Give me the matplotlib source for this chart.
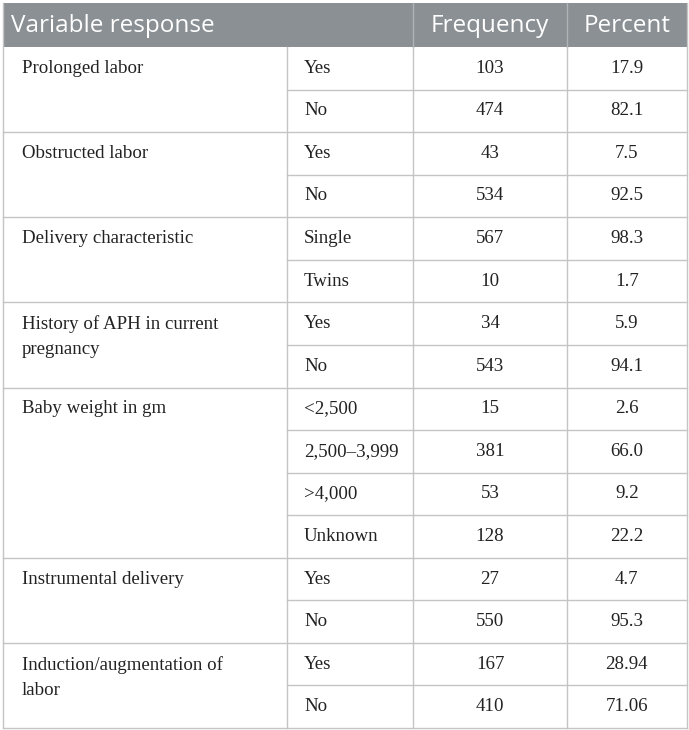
import matplotlib
matplotlib.use("Agg")
import matplotlib.pyplot as plt

# Dades de la taula
variables = [
    "Prolonged labor",
    "Obstructed labor",
    "Delivery characteristic",
    "History of APH in current\npregnancy",
    "Baby weight in gm",
    "Instrumental delivery",
    "Induction/augmentation of\nlabor",
]
responses = [
    ["Yes", "No"],
    ["Yes", "No"],
    ["Single", "Twins"],
    ["Yes", "No"],
    ["<2,500", "2,500\u20133,999", ">4,000", "Unknown"],
    ["Yes", "No"],
    ["Yes", "No"],
]
frequencies = [
    [103, 474],
    [43, 534],
    [567, 10],
    [34, 543],
    [15, 381, 53, 128],
    [27, 550],
    [167, 410],
]
percents = [
    ["17.9", "82.1"],
    ["7.5", "92.5"],
    ["98.3", "1.7"],
    ["5.9", "94.1"],
    ["2.6", "66.0", "9.2", "22.2"],
    ["4.7", "95.3"],
    ["28.94", "71.06"],
]
headers = ["Variable response", "Frequency", "Percent"]

# Geometria (en píxels)
W, H = 689, 730
left, right = 2.5, 686.5
top, head_bot, bottom = 3, 47, 728
col_x = [left, 287, 413, 567, right]
n_rows = sum(len(r) for r in responses)
row_h = (bottom - head_bot) / n_rows

line_c = "#c4c4c4"
head_c = "#8a9093"

fig = plt.figure(figsize=(W / 100, H / 100), dpi=100)
ax = fig.add_axes([0, 0, 1, 1])
ax.set_xlim(0, W)
ax.set_ylim(H, 0)
ax.axis("off")

# Capçalera
ax.add_patch(plt.Rectangle((left, top), right - left, head_bot - top,
                           facecolor=head_c, edgecolor="none"))
ax.plot([col_x[2], col_x[2]], [top, head_bot], color="#b0b4b6", lw=1)
ax.plot([col_x[3], col_x[3]], [top, head_bot], color="#b0b4b6", lw=1)
hfont = dict(family=["Open Sans", "DejaVu Sans"], fontsize=17.5, color="white", va="center")
hy = (top + head_bot) / 2 + 1
ax.text(11, hy, headers[0], ha="left", **hfont)
ax.text((col_x[2] + col_x[3]) / 2, hy, headers[1], ha="center", **hfont)
ax.text((col_x[3] + col_x[4]) / 2, hy, headers[2], ha="center", **hfont)

# Cos
bfont = dict(family=["Liberation Serif", "DejaVu Serif"], fontsize=13.6, color="#222222")
y = head_bot
for var, resp, freq, pct in zip(variables, responses, frequencies, percents):
    g_top = y
    ax.text(22, g_top + row_h / 2 - 8.3, var, ha="left", va="top",
            linespacing=1.6, **bfont)
    for i, (r, f, p) in enumerate(zip(resp, freq, pct)):
        cy = y + row_h / 2
        ax.text(304, cy, r, ha="left", va="center", **bfont)
        ax.text((col_x[2] + col_x[3]) / 2, cy, str(f), ha="center", va="center", **bfont)
        ax.text((col_x[3] + col_x[4]) / 2, cy, p, ha="center", va="center", **bfont)
        y += row_h
        if i < len(resp) - 1:
            ax.plot([col_x[1], right], [y, y], color=line_c, lw=1)
    ax.plot([left, right], [y, y], color=line_c, lw=1)

# Línies verticals i vora
for x in col_x:
    y0 = top if x in (left, right) else head_bot
    ax.plot([x, x], [y0, bottom], color=line_c, lw=1)

fig.savefig("out.png", dpi=100)
